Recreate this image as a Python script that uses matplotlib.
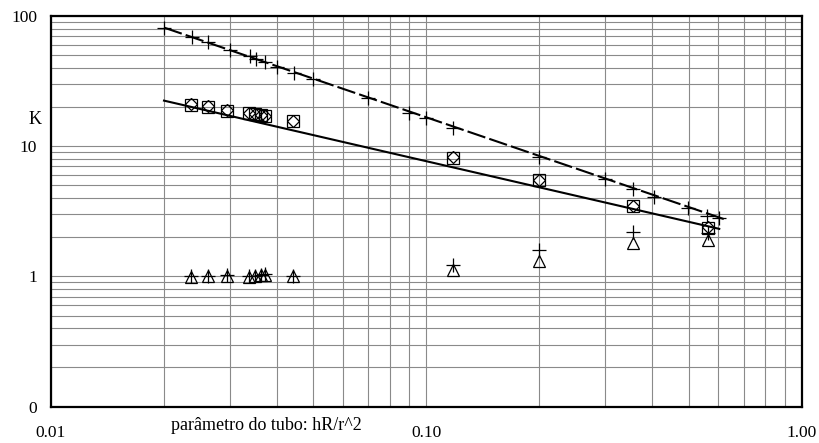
import matplotlib
matplotlib.use("Agg")
import matplotlib.pyplot as plt
from matplotlib.ticker import NullFormatter

plt.rcParams['font.family'] = ['Liberation Serif', 'DejaVu Serif']

# parametro do tubo hR/r^2 and K values
x_upper = [0.0200, 0.0237, 0.0262, 0.0300, 0.0338, 0.0352, 0.0372, 0.0401, 0.0444, 0.0500,
           0.0700, 0.0900, 0.1000, 0.1180, 0.2000, 0.2990, 0.3560, 0.4030, 0.4990, 0.5610, 0.6030]
k_upper = [81.5, 69.5, 63.0, 54.9, 49.4, 47.1, 44.4, 40.8, 36.7, 32.9,
           23.6, 18.1, 16.4, 13.9, 8.23, 5.58, 4.67, 4.10, 3.34, 2.91, 2.80]

x_meas = [0.0236, 0.0262, 0.0295, 0.0336, 0.0350, 0.0362, 0.0372, 0.0442, 0.118, 0.199, 0.356, 0.564]
k_square = [20.8, 20.1, 18.8, 17.9, 17.7, 17.4, 17.2, 15.5, 8.17, 5.51, 3.48, 2.35]
k_diamond = [21.2, 20.4, 19.0, 18.1, 17.7, 17.5, 17.2, 15.7, 8.2, 5.55, 3.50, 2.38]
k_triangle = [0.99, 1.00, 1.01, 0.99, 1.00, 1.02, 1.03, 1.00, 1.12, 1.32, 1.82, 1.91]
k_plus_low = [1.00, 1.01, 1.02, 1.00, 1.01, 1.03, 1.04, 1.01, 1.23, 1.60, 2.21, 2.15]

# trend lines (end points)
fit_up_x = [0.020, 0.620]
fit_up_k = [81.5, 2.76]
fit_low_x = [0.020, 0.603]
fit_low_k = [22.4, 2.32]

fig = plt.figure(figsize=(8.19, 4.43), dpi=100)
ax = fig.add_axes([51 / 819, 1 - 406.7 / 443, 750.7 / 819, 390.7 / 443])

ax.plot(fit_up_x, fit_up_k, color='black', lw=1.5, dashes=(9, 2), zorder=2)
ax.plot(fit_low_x, fit_low_k, color='black', lw=1.5, zorder=2)

ax.plot(x_upper, k_upper, ls='none', marker='+', ms=10, mew=0.9, color='black', zorder=3)
ax.plot(x_meas, k_square, ls='none', marker='s', ms=8.5, mew=0.9, mfc='none', mec='black', zorder=3)
ax.plot(x_meas, k_diamond, ls='none', marker='D', ms=6.5, mew=0.9, mfc='none', mec='black', zorder=3)
ax.plot(x_meas, k_triangle, ls='none', marker='^', ms=8.5, mew=0.9, mfc='none', mec='black', zorder=3)
ax.plot(x_meas, k_plus_low, ls='none', marker='+', ms=10, mew=0.9, color='black', zorder=3)

ax.set_xscale('log')
ax.set_yscale('log')
ax.set_xlim(0.01, 1.0)
ax.set_ylim(0.1, 100)

ax.set_xticks([0.01, 0.1, 1.0])
ax.set_xticklabels(['0.01', '0.10', '1.00'])
ax.set_yticks([0.1, 1, 10, 100])
ax.set_yticklabels(['0', '1', '10', '100'])
ax.xaxis.set_minor_formatter(NullFormatter())
ax.yaxis.set_minor_formatter(NullFormatter())
ax.tick_params(axis='x', which='both', length=0, pad=13, labelsize=12.5)
ax.tick_params(axis='y', which='both', length=0, pad=10, labelsize=12.5)

ax.grid(True, which='both', color='#8a8a8a', lw=0.8)
ax.set_axisbelow(True)
for s in ax.spines.values():
    s.set_linewidth(1.6)
    s.set_color('black')

fig.text(266 / 819, 1 - 426 / 443, 'parâmetro do tubo: hR/r^2', ha='center', va='center', fontsize=13)
fig.text(35 / 819, 1 - 120 / 443, 'K', ha='center', va='center', fontsize=13)

fig.savefig('out.png', dpi=100)
